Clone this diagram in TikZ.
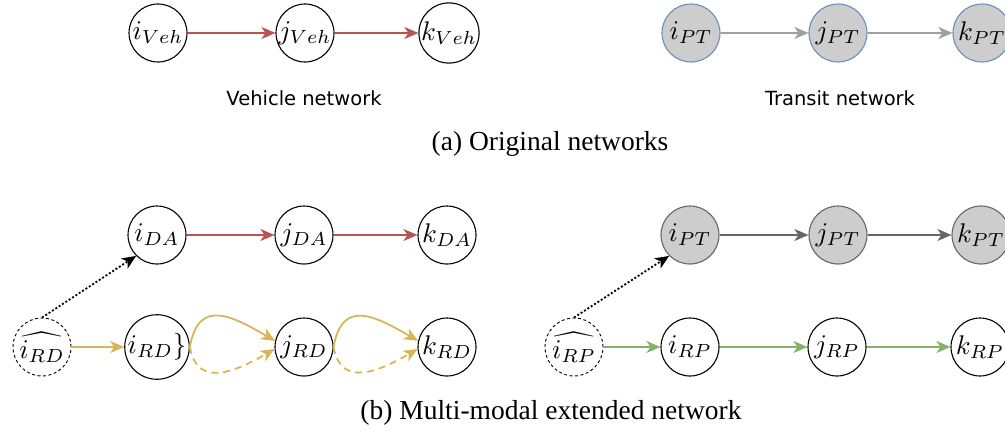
\documentclass[tikz,border=0pt]{standalone}
\usepackage{graphicx}
\usepackage{fontspec}
\newfontfamily\capfont{Liberation Serif}
\newfontfamily\netfont{DejaVu Sans}
\usetikzlibrary{arrows.meta}

% vertex labels: 10pt math enlarged to the vertex size
\newcommand{\vlab}[1]{\scalebox{2.7}{$#1$}}

\definecolor{vehred}{HTML}{B85450}
\definecolor{ptline}{HTML}{A0A0A0}
\definecolor{ptfill}{HTML}{CDCDCD}
\definecolor{ptblue}{HTML}{6C8EBF}
\definecolor{ptdark}{HTML}{666666}
\definecolor{rdyellow}{HTML}{D6B656}
\definecolor{rpgreen}{HTML}{82B366}

\tikzset{
  vert/.style={circle, draw=black, line width=1.1pt, fill=white, minimum size=58pt,
    inner sep=0pt},
  ptvert/.style={vert, fill=ptfill, draw=ptblue},
  ptdvert/.style={vert, fill=ptfill, draw=ptdark},
  hatvert/.style={vert, dash pattern=on 3pt off 2.5pt, line width=0.9pt},
  link/.style={line width=1.8pt, -{Stealth[length=14pt, width=12pt, inset=4pt]}},
  access/.style={link, black, dash pattern=on 2pt off 2pt},
  netlabel/.style={font=\netfont\fontsize{19.5}{22}\selectfont},
  caption/.style={font=\capfont\fontsize{27.5}{32}\selectfont}
}

\begin{document}
\begin{tikzpicture}[x=1pt, y=1pt]
\useasboundingbox (0,0) rectangle (1005,-439);

% vehicle network
\node[vert] (iVeh) at (158,-33) {\vlab{i_{Veh}}};
\node[vert] (jVeh) at (305,-33) {\vlab{j_{Veh}}};
\node[vert] (kVeh) at (449,-33) {\vlab{k_{Veh}}};
\draw[link, vehred] (iVeh) -- (jVeh);
\draw[link, vehred] (jVeh) -- (kVeh);
\node[netlabel] (vehtxt) at (304,-98) {Vehicle network};

% transit network
\node[ptvert] (iPTo) at (691,-33) {\vlab{i_{PT}}};
\node[ptvert] (jPTo) at (838,-33) {\vlab{j_{PT}}};
\node[ptvert] (kPTo) at (982,-33) {\vlab{k_{PT}}};
\draw[link, ptline] (iPTo) -- (jPTo);
\draw[link, ptline] (jPTo) -- (kPTo);
\node[netlabel] (pttxt) at (840,-98) {Transit network};

\node[caption] (capa) at (550,-144) {(a) Original networks};

% extended network: drive-alone and ride-share layers
\node[vert] (iDA) at (157,-235) {\vlab{i_{DA}}};
\node[vert] (jDA) at (304,-235) {\vlab{j_{DA}}};
\node[vert] (kDA) at (447,-235) {\vlab{k_{DA}}};
\draw[link, vehred] (iDA) -- (jDA);
\draw[link, vehred] (jDA) -- (kDA);

\node[hatvert] (hRD) at (42,-347) {\vlab{\widehat{i_{RD}}}};
\node[vert] (iRD) at (157,-347) {\vlab{i_{RD}\}}};
\node[vert] (jRD) at (304,-347) {\vlab{j_{RD}}};
\node[vert] (kRD) at (447,-347) {\vlab{k_{RD}}};
\draw[access] (hRD.north) -- (iDA.south west);
\draw[link, rdyellow] (hRD) -- (iRD);
\draw[link, rdyellow] (iRD.east) to[out=80, in=150, looseness=1.5] (jRD.168);
\draw[link, rdyellow, dash pattern=on 7pt off 5pt] (iRD.east) to[out=-80, in=-150, looseness=1.3] (jRD.184);
\draw[link, rdyellow] (jRD.east) to[out=80, in=150, looseness=1.5] (kRD.168);
\draw[link, rdyellow, dash pattern=on 7pt off 5pt] (jRD.east) to[out=-80, in=-150, looseness=1.3] (kRD.184);

% extended network: transit and ride-to-transit layers
\node[ptdvert] (iPT) at (690,-235) {\vlab{i_{PT}}};
\node[ptdvert] (jPT) at (838,-235) {\vlab{j_{PT}}};
\node[ptdvert] (kPT) at (981,-235) {\vlab{k_{PT}}};
\draw[link, ptdark] (iPT) -- (jPT);
\draw[link, ptdark] (jPT) -- (kPT);

\node[hatvert] (hRP) at (574,-347) {\vlab{\widehat{i_{RP}}}};
\node[vert] (iRP) at (690,-347) {\vlab{i_{RP}}};
\node[vert] (jRP) at (837,-347) {\vlab{j_{RP}}};
\node[vert] (kRP) at (980,-347) {\vlab{k_{RP}}};
\draw[access] (hRP.north) -- (iPT.south west);
\draw[link, rpgreen] (hRP) -- (iRP);
\draw[link, rpgreen] (iRP) -- (jRP);
\draw[link, rpgreen] (jRP) -- (kRP);

\node[caption] (capb) at (551,-413) {(b) Multi-modal extended network};
\end{tikzpicture}
\end{document}
